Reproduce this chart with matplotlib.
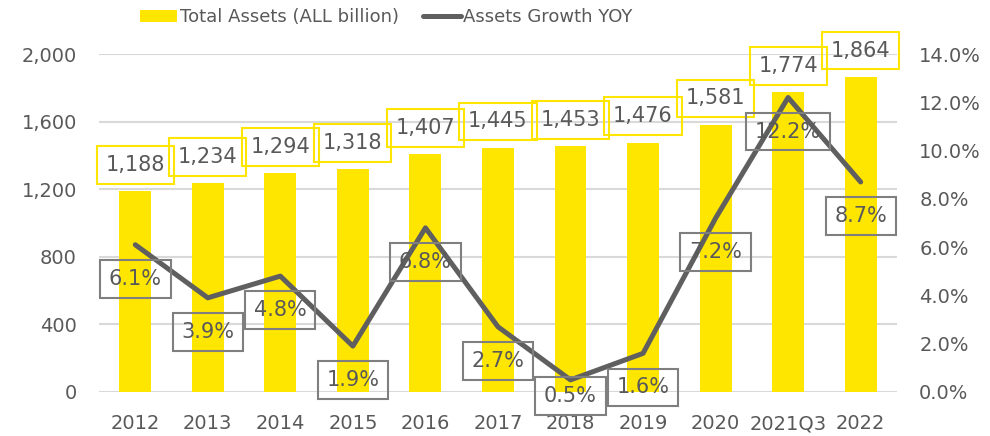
import matplotlib.pyplot as plt
import numpy as np
from matplotlib.ticker import FuncFormatter

years = ['2012', '2013', '2014', '2015', '2016', '2017', '2018', '2019', '2020', '2021Q3', '2022']
assets = [1188, 1234, 1294, 1318, 1407, 1445, 1453, 1476, 1581, 1774, 1864]
growth = [6.1, 3.9, 4.8, 1.9, 6.8, 2.7, 0.5, 1.6, 7.2, 12.2, 8.7]

yellow = '#FFE600'
grey = '#5F5F5F'
txt = '#595959'

plt.rcParams['font.family'] = 'DejaVu Sans'

fig = plt.figure(figsize=(9.9, 4.36), dpi=100)
ax = fig.add_axes([0.1, 0.101, 0.806, 0.775])
ax2 = ax.twinx()

x = np.arange(len(years))
ax.bar(x, assets, width=0.44, color=yellow, zorder=2, label='Total Assets (ALL billion)')
ax2.plot(x, growth, color=grey, lw=3.6, zorder=3, solid_capstyle='round',
         label='Assets Growth YOY')

ax.set_ylim(0, 2000)
ax.set_yticks(range(0, 2001, 400))
ax.yaxis.set_major_formatter(FuncFormatter(lambda v, p: f'{int(v):,}'))
ax2.set_ylim(0, 14)
ax2.set_yticks(range(0, 15, 2))
ax2.yaxis.set_major_formatter(FuncFormatter(lambda v, p: f'{v:.1f}%'))
ax.set_xlim(-0.5, len(years) - 0.5)
ax.set_xticks(x)
ax.set_xticklabels(years)

ax.grid(axis='y', color='#D9D9D9', lw=1.5, zorder=0)
ax.set_axisbelow(True)
for a in (ax, ax2):
    for s in a.spines.values():
        s.set_visible(False)
ax.tick_params(axis='y', length=0, pad=16, labelcolor=txt, labelsize=14)
ax.tick_params(axis='x', length=0, pad=16, labelcolor=txt, labelsize=14)
ax2.tick_params(axis='y', length=0, pad=16, labelcolor=txt, labelsize=14)

# bar value labels
for i, v in enumerate(assets):
    ax.annotate(f'{v:,}', (i, v), xytext=(0, 19), textcoords='offset points',
                ha='center', va='center', color=txt, fontsize=15,
                bbox=dict(boxstyle='square,pad=0.42', fc='none', ec=yellow, lw=1.5), zorder=4)

# growth labels, below the point, kept inside the plot area like Excel does
for i, g in enumerate(growth):
    ly = max(g - 1.41, -0.17)
    ax2.annotate(f'{g:.1f}%', (i, g), xytext=(i, ly), textcoords='data',
                 ha='center', va='center', color=txt, fontsize=15,
                 bbox=dict(boxstyle='square,pad=0.42', fc='none', ec='#7F7F7F', lw=1.5), zorder=5)

h1, l1 = ax.get_legend_handles_labels()
h2, l2 = ax2.get_legend_handles_labels()
fig.legend(h1 + h2, l1 + l2, loc='upper center', bbox_to_anchor=(0.39, 1.018), ncol=2,
           frameon=False, fontsize=13, labelcolor=txt, handlelength=2.1,
           handletextpad=0.15, columnspacing=1.3)

fig.savefig('out.png', dpi=100)
